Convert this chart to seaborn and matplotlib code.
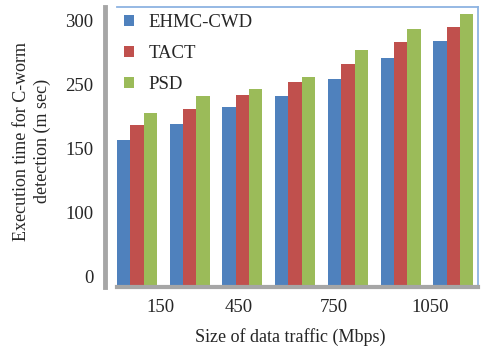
import matplotlib
matplotlib.use("Agg")
import matplotlib.pyplot as plt
import seaborn as sns
import pandas as pd

# ---- data ----
traffic = ["150", "300", "450", "600", "750", "900", "1050"]
methods = ["EHMC-CWD", "TACT", "PSD"]
ehmc_cwd = [160, 179, 198, 211, 231, 256, 276]
tact = [177, 196, 213, 228, 249, 274, 292]
psd = [192, 211, 220, 234, 265, 290, 307]
ytick_values = [0, 75, 150, 225, 300]
ytick_labels = ["0", "100", "150", "250", "300"]
xtick_labels = ["150", "450", "750", "1050"]

df = pd.DataFrame({
    "traffic": traffic * 3,
    "method": [m for m in methods for _ in traffic],
    "time": ehmc_cwd + tact + psd,
})

sns.set_theme(style="white")
plt.rcParams["font.family"] = ["Liberation Serif", "DejaVu Serif"]

W, H = 482, 352
fig = plt.figure(figsize=(W / 100, H / 100), dpi=100)
L, R, T, B = 117, 478, 7, 287
ax = fig.add_axes([L / W, 1 - B / H, (R - L) / W, (B - T) / H])

palette = {"EHMC-CWD": "#4F81BD", "TACT": "#C0504D", "PSD": "#9BBB59"}
sns.barplot(data=df, x="traffic", y="time", hue="method", order=traffic,
            hue_order=methods, palette=palette, width=0.76, saturation=1,
            linewidth=0, ax=ax)

ymin, ymax = -11.7, 315.2
ax.set_ylim(ymin, ymax)
ax.set_xlim(-0.38, 6.47)
# extend bars down to the 3D floor
for p in ax.patches:
    if p.get_height() > 0:
        top = p.get_y() + p.get_height()
        p.set_y(ymin)
        p.set_height(top - ymin)

ax.set_yticks(ytick_values, ytick_labels)
ax.set_xticks([0.44, 1.92, 3.74, 5.56], xtick_labels)
ax.tick_params(axis="y", length=0, pad=8, labelsize=13.5)
ax.tick_params(axis="x", length=0, pad=9, labelsize=13.5)

ax.set_ylabel("Execution time for C-worm\ndetection (m sec)", fontsize=13,
              linespacing=1.25, multialignment="center")
ax.yaxis.label.set_va("center")
ax.yaxis.set_label_coords(-0.235, 0.52)
ax.set_xlabel("Size of data traffic (Mbps)", fontsize=13)
ax.xaxis.label.set_va("center")
ax.xaxis.set_label_coords(0.479, -0.179)

for s in ["top", "right"]:
    ax.spines[s].set_color("#8DB3E2")
    ax.spines[s].set_linewidth(1.3)
ax.spines["left"].set_color("#A6A6A6")
ax.spines["left"].set_linewidth(3.5)
ax.spines["left"].set_position(("outward", 9))
ax.spines["bottom"].set_color("#A6A6A6")
ax.spines["bottom"].set_linewidth(3)

leg = ax.legend(loc="upper left", bbox_to_anchor=(0.019, 0.975), frameon=False,
                fontsize=13.5, handlelength=0.55, handleheight=0.5,
                handletextpad=0.75, labelspacing=0.75, borderpad=0,
                borderaxespad=0)

fig.savefig("out.png", dpi=100)
